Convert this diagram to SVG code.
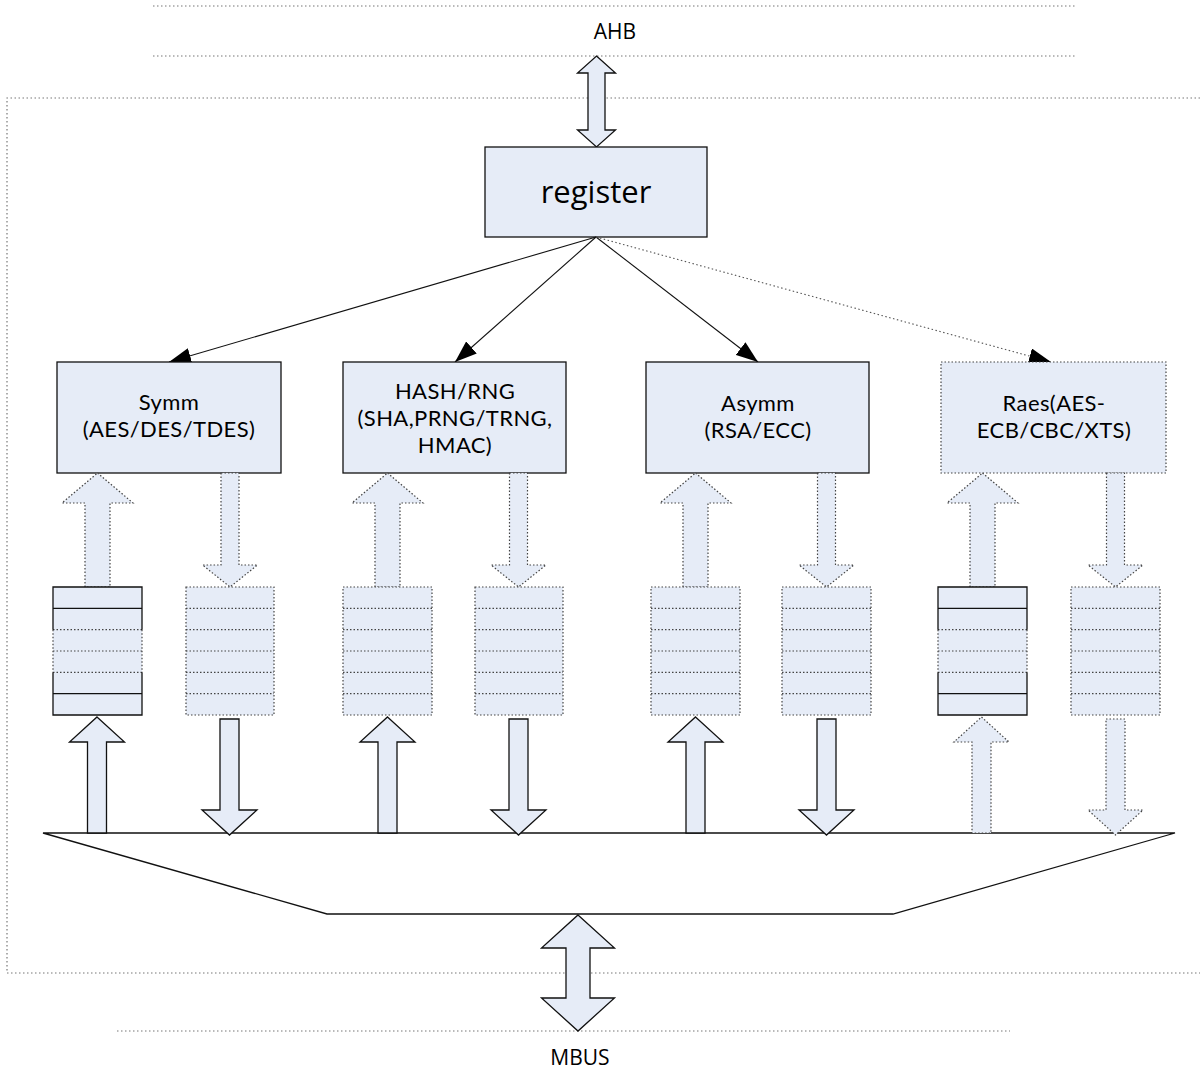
<svg xmlns="http://www.w3.org/2000/svg" xmlns:xlink="http://www.w3.org/1999/xlink" width="1200" height="1079" viewBox="0 0 1200 1079">
<defs>
<style>
.bg{fill:#ffffff}
.box{fill:#e6ecf7;stroke:#111;stroke-width:1.3}
.dbox{fill:#e6ecf7;stroke:#444;stroke-width:1.2;stroke-dasharray:1.5 2}
.fill{fill:#e6ecf7;stroke:none}
.sl{fill:none;stroke:#111;stroke-width:1.3}
.dl{fill:none;stroke:#444;stroke-width:1.2;stroke-dasharray:1.5 2}
.gl{fill:none;stroke:#777;stroke-width:1.2;stroke-dasharray:1.5 2.5}
.con{fill:none;stroke:#111;stroke-width:1.1}
.dcon{fill:none;stroke:#555;stroke-width:1.1;stroke-dasharray:1.5 2.5}
.t{font-family:Lato,"Open Sans","Liberation Sans",sans-serif;font-size:22px;letter-spacing:0.4px;fill:#000;text-anchor:middle}
.reg{font-family:"Open Sans","Liberation Sans",sans-serif;font-size:31px;fill:#000;text-anchor:middle}
.bus{font-family:"Open Sans","Liberation Sans",sans-serif;font-size:21px;fill:#000;text-anchor:middle}
</style>
<marker id="ah" viewBox="0 0 22 16" refX="22" refY="8" markerWidth="22" markerHeight="16" markerUnits="userSpaceOnUse" orient="auto">
<path d="M0,0 L22,8 L0,16 Z" fill="#000"/>
</marker>
<path id="upA" d="M0,473 L35.5,503 L12.5,503 L12.5,587 L-12.5,587 L-12.5,503 L-35.5,503 Z"/>
<path id="dnA" d="M-9,473 H9 V565 H27.5 L0,587 L-27.5,565 H-9 Z"/>
<path id="upB" d="M0,717 L27.5,742 H9.5 V833 H-9.5 V742 H-27.5 Z"/>
<path id="dnB" d="M-9.5,719 H9.5 V810 H27.5 L0,835 L-27.5,810 H-9.5 Z"/>
</defs>
<rect class="bg" x="0" y="0" width="1200" height="1079"/>

<!-- bus lines -->
<g id="buses">
<path class="gl" d="M153,6 H1075 M153,56 H1075"/>
<path class="gl" d="M1200,98 H7 V973 H1200"/>
<path class="gl" d="M117,1031 H1010"/>
<text class="bus" x="615" y="39">AHB</text>
<text class="bus" x="580" y="1065">MBUS</text>
</g>

<!-- bottom trapezoid bus -->
<g id="mux">
<polygon class="sl" points="43,833 1175,833 893,914 327,914"/>
</g>

<!-- double arrows -->
<g id="ahb-arrow">
<path class="box" d="M596.5,56 L615.5,73 H605 V130 H615.5 L596.5,147 L577.5,130 H588 V73 H577.5 Z"/>
</g>
<g id="mbus-arrow">
<path class="box" d="M578,915 L614.5,948 H590 V998 H614.5 L578,1031 L541.5,998 H566 V948 H541.5 Z"/>
</g>

<!-- register -->
<g id="register">
<rect class="box" x="485" y="147" width="222" height="90"/>
<text class="reg" x="596" y="203">register</text>
</g>

<!-- connectors -->
<g id="connectors">
<line class="con" x1="596" y1="237" x2="169" y2="362" marker-end="url(#ah)"/>
<line class="con" x1="596" y1="237" x2="455" y2="362" marker-end="url(#ah)"/>
<line class="con" x1="596" y1="237" x2="758" y2="362" marker-end="url(#ah)"/>
<line class="dcon" x1="596" y1="237" x2="1051" y2="362" marker-end="url(#ah)"/>
</g>

<!-- engine boxes -->
<g id="symm">
<rect class="box" x="57" y="362" width="224" height="111"/>
<text class="t" x="169" y="410">Symm</text>
<text class="t" x="169" y="437">(AES/DES/TDES)</text>
</g>
<g id="hash">
<rect class="box" x="343" y="362" width="223" height="111"/>
<text class="t" x="455" y="399">HASH/RNG</text>
<text class="t" x="455" y="426">(SHA,PRNG/TRNG,</text>
<text class="t" x="455" y="453">HMAC)</text>
</g>
<g id="asymm">
<rect class="box" x="646" y="362" width="223" height="111"/>
<text class="t" x="758" y="411">Asymm</text>
<text class="t" x="758" y="438">(RSA/ECC)</text>
</g>
<g id="raes">
<rect class="dbox" x="941" y="362" width="225" height="111"/>
<text class="t" x="1054" y="411">Raes(AES-</text>
<text class="t" x="1054" y="438">ECB/CBC/XTS)</text>
</g>

<!-- upper arrows (engine <-> FIFO) -->
<g id="upper-arrows">
<use xlink:href="#upA" class="dbox" x="97.5"/>
<use xlink:href="#dnA" class="dbox" x="230"/>
<use xlink:href="#upA" class="dbox" x="387.5"/>
<use xlink:href="#dnA" class="dbox" x="518.5"/>
<use xlink:href="#upA" class="dbox" x="695.5"/>
<use xlink:href="#dnA" class="dbox" x="826.5"/>
<use xlink:href="#upA" class="dbox" x="982.5"/>
<use xlink:href="#dnA" class="dbox" x="1115.5"/>
</g>

<!-- FIFOs -->
<g id="fifo-symm-in">
<rect class="fill" x="53" y="587" width="89" height="128"/>
<path class="dl" d="M53,629.7 V672.3 M142,629.7 V672.3 M53,629.7 H142 M53,651 H142 M53,672.3 H142"/>
<path class="sl" d="M53,629.7 V587 H142 V629.7 M53,672.3 V715 H142 V672.3 M53,608.3 H142 M53,693.7 H142"/>
</g>
<g id="fifo-symm-out">
<rect class="dbox" x="186" y="587" width="88" height="128"/>
<path class="dl" d="M186,608.3 H274 M186,629.7 H274 M186,651 H274 M186,672.3 H274 M186,693.7 H274"/>
</g>
<g id="fifo-hash-in">
<rect class="dbox" x="343" y="587" width="89" height="128"/>
<path class="dl" d="M343,608.3 H432 M343,629.7 H432 M343,651 H432 M343,672.3 H432 M343,693.7 H432"/>
</g>
<g id="fifo-hash-out">
<rect class="dbox" x="475" y="587" width="88" height="128"/>
<path class="dl" d="M475,608.3 H563 M475,629.7 H563 M475,651 H563 M475,672.3 H563 M475,693.7 H563"/>
</g>
<g id="fifo-asymm-in">
<rect class="dbox" x="651" y="587" width="89" height="128"/>
<path class="dl" d="M651,608.3 H740 M651,629.7 H740 M651,651 H740 M651,672.3 H740 M651,693.7 H740"/>
</g>
<g id="fifo-asymm-out">
<rect class="dbox" x="782" y="587" width="89" height="128"/>
<path class="dl" d="M782,608.3 H871 M782,629.7 H871 M782,651 H871 M782,672.3 H871 M782,693.7 H871"/>
</g>
<g id="fifo-raes-in">
<rect class="fill" x="938" y="587" width="89" height="128"/>
<path class="dl" d="M938,629.7 V672.3 M1027,629.7 V672.3 M938,629.7 H1027 M938,651 H1027 M938,672.3 H1027"/>
<path class="sl" d="M938,629.7 V587 H1027 V629.7 M938,672.3 V715 H1027 V672.3 M938,608.3 H1027 M938,693.7 H1027"/>
</g>
<g id="fifo-raes-out">
<rect class="dbox" x="1071" y="587" width="89" height="128"/>
<path class="dl" d="M1071,608.3 H1160 M1071,629.7 H1160 M1071,651 H1160 M1071,672.3 H1160 M1071,693.7 H1160"/>
</g>

<!-- lower arrows (FIFO <-> bus) -->
<g id="lower-arrows">
<use xlink:href="#upB" class="box" x="97"/>
<use xlink:href="#dnB" class="box" x="229.5"/>
<use xlink:href="#upB" class="box" x="387.5"/>
<use xlink:href="#dnB" class="box" x="518.5"/>
<use xlink:href="#upB" class="box" x="695.5"/>
<use xlink:href="#dnB" class="box" x="826.5"/>
<use xlink:href="#upB" class="dbox" x="981.5"/>
<use xlink:href="#dnB" class="dbox" x="1115.5"/>
</g>
</svg>
